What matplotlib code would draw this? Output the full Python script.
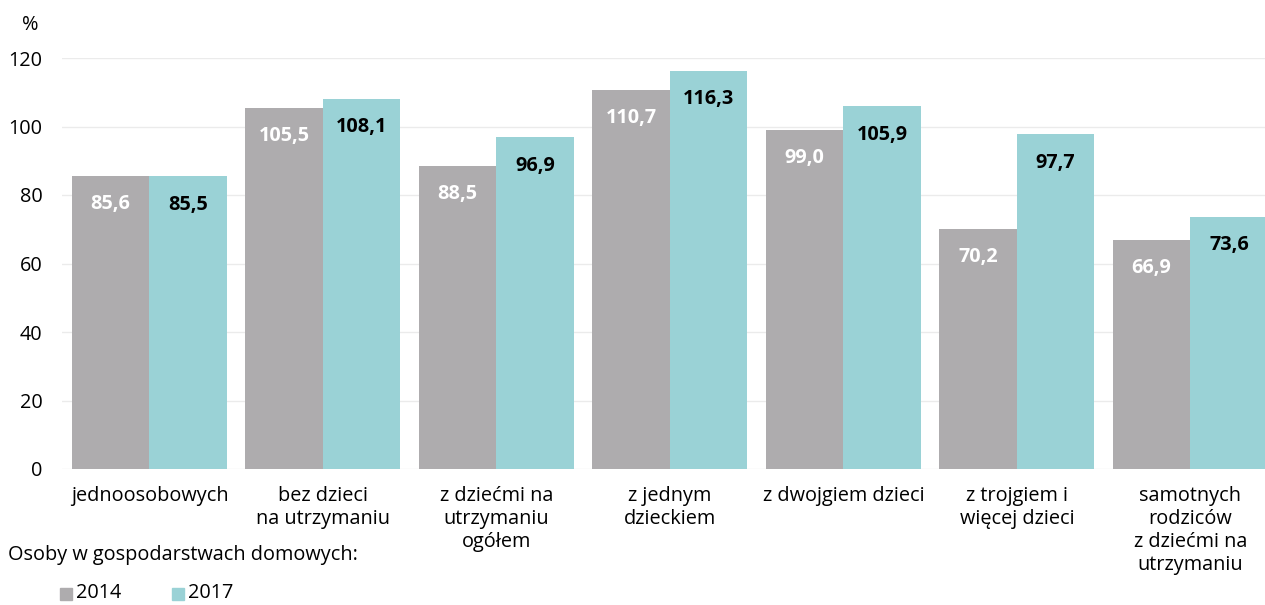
import matplotlib
matplotlib.use("Agg")
import matplotlib.pyplot as plt
import numpy as np
from matplotlib.patches import Rectangle

categories = ["jednoosobowych", "bez dzieci\nna utrzymaniu", "z dziećmi na\nutrzymaniu\nogółem",
              "z jednym\ndzieckiem", "z dwojgiem dzieci", "z trojgiem i\nwięcej dzieci",
              "samotnych\nrodziców\nz dziećmi na\nutrzymaniu"]
v2014 = [85.6, 105.5, 88.5, 110.7, 99.0, 70.2, 66.9]
v2017 = [85.5, 108.1, 96.9, 116.3, 105.9, 97.7, 73.6]
years = ["2014", "2017"]
yticks = [0, 20, 40, 60, 80, 100, 120]

c14 = "#AEACAE"
c17 = "#9AD2D6"
plt.rcParams['font.family'] = ['Open Sans', 'DejaVu Sans']
FS = 14.3

fig = plt.figure(figsize=(12.65, 6.05), dpi=100)
ax = fig.add_axes([62/1265, 1-469/605, 1-62/1265, (469-58)/605])
x = np.arange(len(categories))
w = 0.447
ax.bar(x - w/2, v2014, w, color=c14, linewidth=0)
ax.bar(x + w/2, v2017, w, color=c17, linewidth=0)

def fmt(v):
    return f"{v:.1f}".replace(".", ",")

for xi, v in zip(x, v2014):
    ax.text(xi - w/2, v - 8.3, fmt(v), ha="center", va="center", color="white",
            fontsize=FS, fontweight="bold")
for xi, v in zip(x, v2017):
    ax.text(xi + w/2, v - 8.3, fmt(v), ha="center", va="center", color="black",
            fontsize=FS, fontweight="bold")

ax.set_xlim(-0.504, 6.43)
ax.set_ylim(0, 120)
ax.set_yticks(yticks)
ax.set_yticklabels([str(t) for t in yticks], fontsize=FS)
ax.set_xticks(x)
ax.set_xticklabels(categories, fontsize=FS, linespacing=1.2, va="top")
ax.tick_params(axis="both", length=0)
ax.tick_params(axis="y", pad=14)
ax.tick_params(axis="x", pad=12)
ax.grid(axis="y", color="#EBEBEB", linewidth=1)
ax.set_axisbelow(True)
for s in ax.spines.values():
    s.set_visible(False)

fig.text(22/1265, 1-25/605, "%", fontsize=FS, va="center", ha="left")
fig.text(8/1265, 1-555/605, "Osoby w gospodarstwach domowych:", fontsize=FS, va="center", ha="left")
for xs, lab, col in [(60, years[0], c14), (172, years[1], c17)]:
    fig.patches.append(Rectangle((xs/1265, 5/605), 12/1265, 12/605,
                                 transform=fig.transFigure, color=col, figure=fig))
    fig.text((xs+16)/1265, 1-593/605, lab, fontsize=FS, va="center", ha="left")

fig.savefig("out.png", dpi=100)
